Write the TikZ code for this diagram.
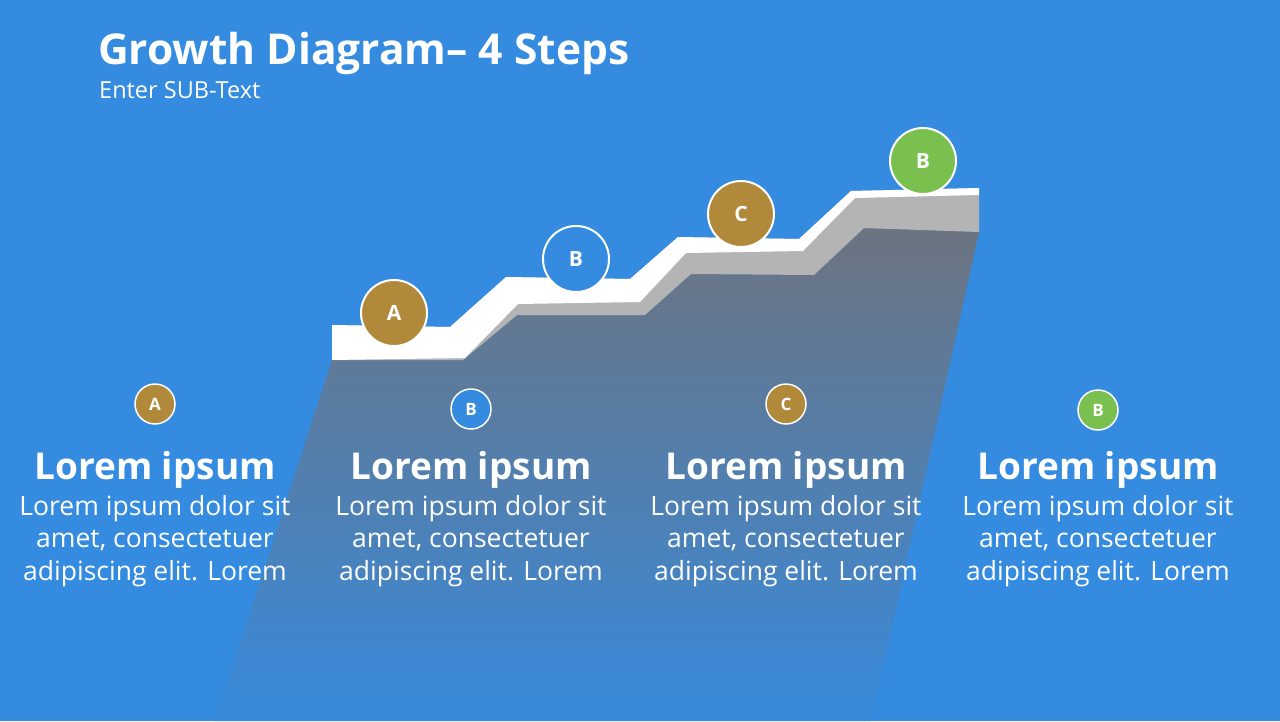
\documentclass[tikz,border=0pt]{standalone}
\usepackage{fontspec}
\setmainfont{Open Sans}
\usetikzlibrary{positioning}

\definecolor{bgblue}{RGB}{52,139,223}
\definecolor{stepgold}{RGB}{176,137,58}
\definecolor{stepgreen}{RGB}{122,192,78}
\definecolor{sidegray}{RGB}{180,180,180}
\definecolor{bodytop}{RGB}{108,116,128}
\definecolor{bodybot}{RGB}{56,138,220}

\tikzset{
  bigdot/.style={circle, draw=white, line width=2pt, minimum size=66pt, inner sep=0pt,
    text=white, font=\fontsize{21}{21}\selectfont\bfseries},
  smalldot/.style={circle, draw=white, line width=1.5pt, minimum size=40pt, inner sep=0pt,
    text=white, font=\fontsize{17}{17}\selectfont\bfseries},
  head/.style={text=white, inner sep=0pt, font=\fontsize{37}{42}\selectfont\bfseries},
  blurb/.style={text=white, inner sep=0pt, align=center, font=\fontsize{26.5}{32.5}\selectfont},
}

\begin{document}
\begin{tikzpicture}[x=1pt,y=-1pt]

    % Background
    \fill[bgblue] (0,0) rectangle (1280,721);

    % Title
    \node[anchor=base west, inner sep=0pt, text=white, font=\fontsize{42.5}{44}\selectfont\bfseries]
        (title) at (98,64) {Growth Diagram– 4 Steps};
    \node[anchor=base west, inner sep=0pt, text=white, font=\fontsize{23.5}{26}\selectfont]
        (subtitle) at (99,98) {Enter SUB-Text};

    % Body of the stairs
    \shade[top color=bodytop, bottom color=bodybot]
        (332,360) -- (463,360) -- (517,315) -- (645,315) -- (691,274) -- (814,275)
        -- (864,228) -- (979,232) -- (871,721) -- (215,721) -- cycle;

    % Side faces
    \fill[sidegray]
        (332,325) -- (450,327) -- (506,277) -- (630,279) -- (678,237) -- (799,239)
        -- (851,191) -- (979,188) -- (979,232) -- (864,228) -- (814,275) -- (691,274)
        -- (645,315) -- (517,315) -- (463,360) -- (332,360) -- cycle;

    % Top faces
    \fill[white]
        (332,325) -- (450,327) -- (506,277) -- (630,279) -- (678,237) -- (799,239)
        -- (851,191) -- (979,188) -- (979,195) -- (855,198) -- (803,251) -- (686,253)
        -- (640,302) -- (518,304) -- (465,358) -- (332,360) -- cycle;

    % Markers on the steps
    \node[bigdot, fill=stepgold]  (stepA) at (394,313) {A};
    \node[bigdot, fill=bgblue]    (stepB) at (576,259) {B};
    \node[bigdot, fill=stepgold]  (stepC) at (741,214) {C};
    \node[bigdot, fill=stepgreen] (stepD) at (923,161) {B};

    % Columns
    \foreach \x/\y/\lbl/\col [count=\i] in {155/404/A/stepgold, 471/409/B/bgblue,
                                           786/404/C/stepgold, 1098/410/B/stepgreen} {
        \node[smalldot, fill=\col] (key\i) at (\x,\y) {\lbl};
        \node[head] (head\i) at (\x,470) {Lorem ipsum};
        \node[blurb, below=6pt of head\i] (text\i)
            {Lorem ipsum dolor sit\\amet, consectetuer\\adipiscing elit. Lorem};
    }

\end{tikzpicture}
\end{document}
